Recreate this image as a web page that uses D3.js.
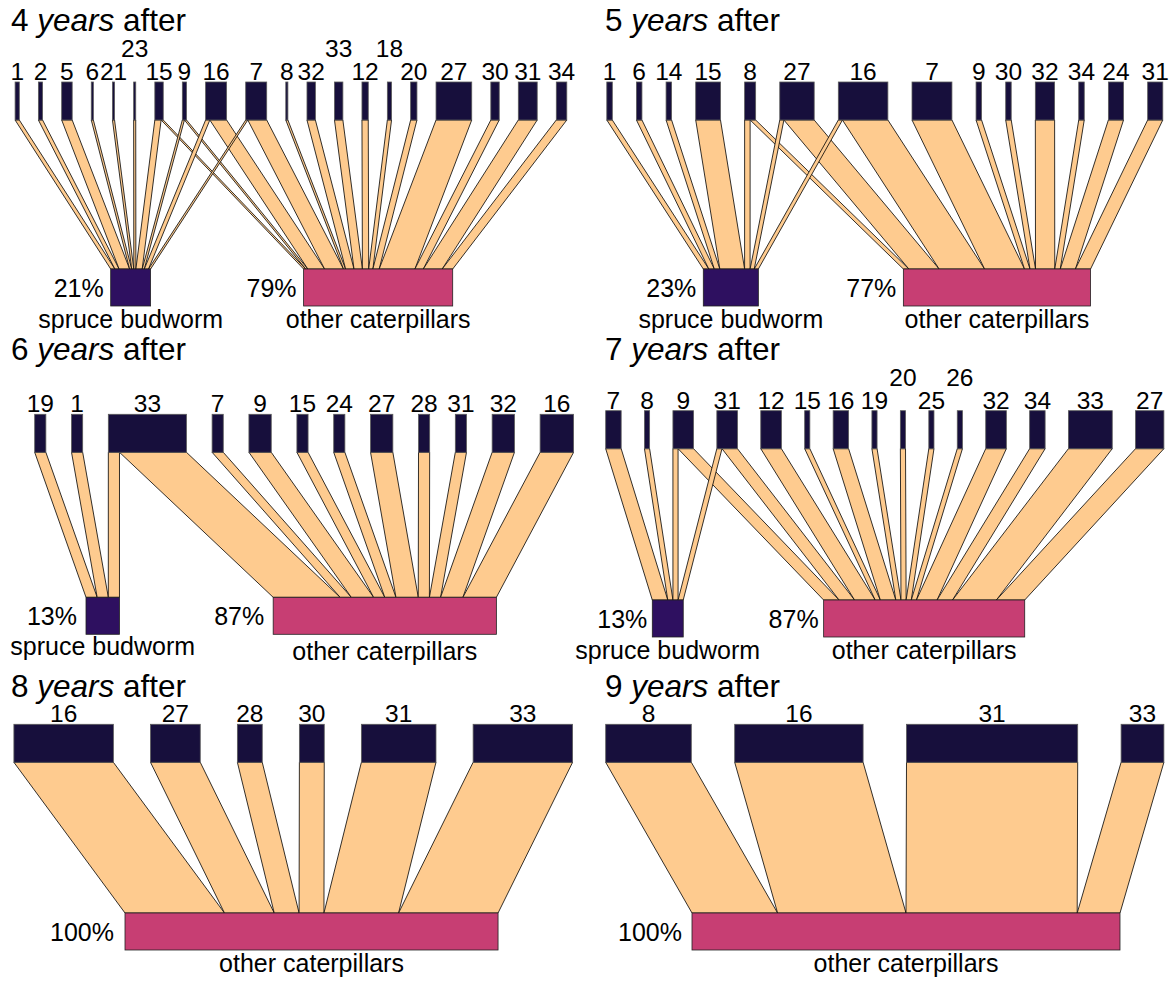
<!DOCTYPE html>
<html>
<head>
<meta charset="utf-8">
<script src="https://cdn.jsdelivr.net/npm/d3@7"></script>
<style>
  body { margin: 0; background: #ffffff; }
  svg { display: block; font-family: "Liberation Sans", Arial, Helvetica, sans-serif; }
</style>
</head>
<body>
<svg id="chart" width="1175" height="984"></svg>
<script>
// ---- Data: bird species (upper level) and caterpillar prey (lower level) ----
const preyNames = ["spruce budworm", "other caterpillars"];
const periodYears = [4, 5, 6, 7, 8, 9];

// 4 years after
const birds4   = ["1","2","5","6","21","23","15","9","16","7","8","32","33","12","18","20","27","30","31","34"];
const budworm4 = [2, 2, 5, 1, 1, 1, 3, 1, 2, 1, 0, 0, 0, 0, 0, 0, 0, 0, 0, 0];
const other4   = [0, 0, 0, 0, 0, 0, 1, 1, 8, 9, 1, 4, 4, 3, 2, 3, 17, 4, 9, 5];

// 5 years after
const birds5   = ["1","6","14","15","8","27","16","7","9","30","32","34","24","31"];
const budworm5 = [2, 2, 2, 9, 2, 1.5, 1.5, 0, 0, 0, 0, 0, 0, 0];
const other5   = [0, 0, 0, 0, 2, 11, 16.5, 14.5, 2, 2, 7, 2, 5.5, 5.5];

// 6 years after
const birds6   = ["19","1","33","7","9","15","24","27","28","31","32","16"];
const budworm6 = [1, 1, 1, 0, 0, 0, 0, 0, 0, 0, 0, 0];
const other6   = [0, 0, 6, 1, 2, 1, 1, 2, 1, 1, 2, 3];

// 7 years after
const birds7   = ["7","8","9","31","12","15","16","19","20","25","26","32","34","33","27"];
const budworm7 = [3, 1, 1, 1, 0, 0, 0, 0, 0, 0, 0, 0, 0, 0, 0];
const other7   = [0, 0, 3, 3, 4, 1, 3, 1, 1, 1, 1, 4, 3, 8.5, 5.5];

// 8 years after
const birds8   = ["16","27","28","30","31","33"];
const budworm8 = [0, 0, 0, 0, 0, 0];
const other8   = [4, 2, 1, 1, 3, 4];

// 9 years after
const birds9   = ["8","16","31","33"];
const budworm9 = [0, 0, 0, 0];
const other9   = [2, 3, 4, 1];

const webs = [
  { birds: birds4, prey: [budworm4, other4] },
  { birds: birds5, prey: [budworm5, other5] },
  { birds: birds6, prey: [budworm6, other6] },
  { birds: birds7, prey: [budworm7, other7] },
  { birds: birds8, prey: [budworm8, other8] },
  { birds: birds9, prey: [budworm9, other9] }
];

// ---- Layout of each web panel (pixels) ----
const layout = [
  { titleX: 11,  titleY: 31,  topY: 82,    lowY: 269,   unit: 2.1,   topX0: 15.1,  topX1: 566.8,  lowX0: 110.7, lowGap: 153,   pctGap: 7,  lowLabelShift: [0, 0], raised: ["23","33","18"] },
  { titleX: 605, titleY: 31,  topY: 82,    lowY: 269,   unit: 2.753, topX0: 606.8, topX1: 1162.8, lowX0: 703.3, lowGap: 145,   pctGap: 7,  lowLabelShift: [0, 0], raised: [] },
  { titleX: 11,  titleY: 360, topY: 414.3, lowY: 597.3, unit: 11.16, topX0: 34.7,  topX1: 573.6,  lowX0: 86,    lowGap: 153.7, pctGap: 9,  lowLabelShift: [-1, 4], raised: [] },
  { titleX: 605, titleY: 360, topY: 410.7, lowY: 600,   unit: 5.156, topX0: 605.7, topX1: 1163.9, lowX0: 652.3, lowGap: 140.4, pctGap: 5,  lowLabelShift: [0, 0], raised: ["20","26"] },
  { titleX: 11,  titleY: 697, topY: 724.3, lowY: 913,   unit: 24.87, topX0: 13.9,  topX1: 572.6,  lowX0: 125,   lowGap: 0,     pctGap: 11, lowLabelShift: [0, 0], raised: [] },
  { titleX: 605, titleY: 697, topY: 724.3, lowY: 913,   unit: 42.8,  topX0: 605.7, topX1: 1163.9, lowX0: 692,   lowGap: 0,     pctGap: 10, lowLabelShift: [0, 0], raised: [] }
];

const topH = 38, lowH = 37;
const colTop = "#170f3c";
const colLow = ["#2e1060", "#c73e73"];
const colLink = "#fecb8f";

const svg = d3.select("#chart");

webs.forEach((web, k) => {
  const L = layout[k];
  const g = svg.append("g");
  const nTop = web.birds.length;

  const topTotals = web.birds.map((b, i) => d3.sum(web.prey, a => a[i]));
  const lowTotals = web.prey.map(a => d3.sum(a));
  const total = d3.sum(topTotals);

  // width scale shared by boxes and links
  const w = d3.scaleLinear().domain([0, total]).range([0, L.unit * total]);
  const gapTop = nTop > 1 ? (L.topX1 - L.topX0 - w(total)) / (nTop - 1) : 0;

  // upper level positions
  const topX = [];
  let cx = L.topX0;
  topTotals.forEach(t => { topX.push(cx); cx += w(t) + gapTop; });

  // lower level: only prey that were eaten
  const lowIdx = d3.range(web.prey.length).filter(j => lowTotals[j] > 0);
  const lowX = {};
  let lx = L.lowX0;
  lowIdx.forEach(j => { lowX[j] = lx; lx += w(lowTotals[j]) + L.lowGap; });

  // interaction bands
  const topCur = topX.slice();
  const lowCur = Object.assign({}, lowX);
  const links = [];
  web.birds.forEach((b, i) => {
    lowIdx.forEach(j => {
      const v = web.prey[j][i];
      if (v > 0) {
        links.push({ x0: topCur[i], x1: lowCur[j], width: w(v) });
        topCur[i] += w(v);
        lowCur[j] += w(v);
      }
    });
  });

  const y0 = L.topY + topH, y1 = L.lowY;
  g.append("g").selectAll("path").data(links).join("path")
    .attr("d", d => `M${d.x0},${y0}L${d.x0 + d.width},${y0}L${d.x1 + d.width},${y1}L${d.x1},${y1}Z`)
    .attr("fill", colLink)
    .attr("stroke", "#000")
    .attr("stroke-width", 0.8)
    .attr("stroke-linejoin", "miter");

  // upper boxes
  g.append("g").selectAll("rect").data(web.birds).join("rect")
    .attr("x", (d, i) => topX[i])
    .attr("y", L.topY)
    .attr("width", (d, i) => w(topTotals[i]))
    .attr("height", topH)
    .attr("fill", colTop)
    .attr("stroke", "#5a5a5a")
    .attr("stroke-width", 0.8);

  // upper labels
  g.append("g").selectAll("text").data(web.birds).join("text")
    .attr("x", (d, i) => topX[i] + w(topTotals[i]) / 2)
    .attr("y", d => L.raised.includes(d) ? L.topY - 25 : L.topY - 2)
    .attr("text-anchor", "middle")
    .attr("font-size", 24.5)
    .text(d => d);

  // lower boxes
  g.append("g").selectAll("rect").data(lowIdx).join("rect")
    .attr("x", j => lowX[j])
    .attr("y", L.lowY)
    .attr("width", j => w(lowTotals[j]))
    .attr("height", lowH)
    .attr("fill", j => colLow[j])
    .attr("stroke", "#222")
    .attr("stroke-width", 0.8);

  // share of prey
  g.append("g").selectAll("text").data(lowIdx).join("text")
    .attr("x", j => lowX[j] - L.pctGap)
    .attr("y", L.lowY + lowH / 2 + 9)
    .attr("text-anchor", "end")
    .attr("font-size", 25)
    .text(j => Math.round(100 * lowTotals[j] / total) + "%");

  // prey names
  g.append("g").selectAll("text").data(lowIdx).join("text")
    .attr("x", j => lowX[j] + w(lowTotals[j]) / 2)
    .attr("y", j => L.lowY + lowH + 22 + L.lowLabelShift[j])
    .attr("text-anchor", "middle")
    .attr("font-size", 25)
    .text(j => preyNames[j]);

  // panel title
  const t = g.append("text")
    .attr("x", L.titleX)
    .attr("y", L.titleY)
    .attr("font-size", 31.5);
  t.append("tspan").text(periodYears[k] + " ");
  t.append("tspan").attr("font-style", "italic").text("years");
  t.append("tspan").text(" after");
});
</script>
</body>
</html>
